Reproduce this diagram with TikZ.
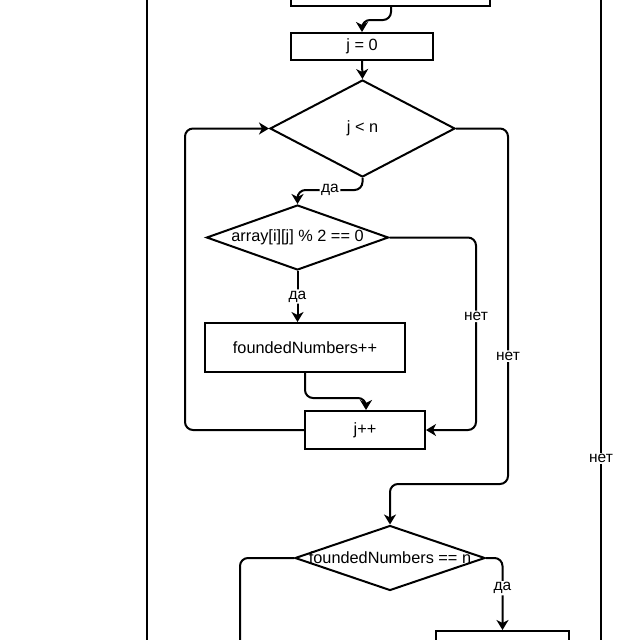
\documentclass[tikz,border=0pt]{standalone}
\usepackage{fontspec}
\setmainfont{Liberation Sans}
\usetikzlibrary{shapes.geometric,arrows.meta}
\begin{document}
\begin{tikzpicture}[x=1pt,y=1pt,line width=2pt,
  box/.style={draw, rectangle, inner sep=0pt, font=\fontsize{16.3}{19}\selectfont},
  dia/.style={draw, diamond, inner sep=0pt, aspect=1},
  dtext/.style={font=\fontsize{16.3}{19}\selectfont, inner sep=0pt},
  flow/.style={draw, -{Stealth[length=10pt,width=12pt,inset=3pt]}, rounded corners=8pt},
  plain/.style={draw, rounded corners=8pt},
  lab/.style={fill=white, inner sep=1.5pt, font=\fontsize{15.5}{18}\selectfont}]
\useasboundingbox (0,0) rectangle (640,-640);
\fill[white] (0,0) rectangle (640,-640);
\clip (0,0) rectangle (640,-640);

% outer loop lines
\coordinate (ltop) at (147,10);
\coordinate (lbot) at (147,-650);
\coordinate (rtop) at (601,10);
\coordinate (rbot) at (601,-650);
\draw (ltop) -- (lbot);
\draw (rtop) -- node[lab, pos=0.71]{нет} (rbot);

% nodes
\node[box, minimum width=199pt, minimum height=40pt] (tb) at (390.5,14) {};
\node[box, minimum width=142pt, minimum height=27pt] (j0) at (362,-46.5) {j = 0};
\node[dia, minimum width=185pt, minimum height=97pt] (d1) at (362.5,-128.5) {};
\node[dtext] at (d1.center) {j < n};
\node[dia, minimum width=182pt, minimum height=65pt] (d2) at (297.5,-237.5) {};
\node[dtext] at (d2.center) {array[i][j] \% 2 == 0};
\node[box, minimum width=200pt, minimum height=49pt] (fn) at (305,-347.5) {foundedNumbers++};
\node[box, minimum width=120pt, minimum height=38pt] (jpp) at (365,-430) {j++};
\node[dia, minimum width=190pt, minimum height=65pt] (d3) at (390,-558) {};
\node[dtext] at (d3.center) {foundedNumbers == n};
\node[box, minimum width=133pt, minimum height=40pt] (res) at (502.5,-651) {};

% connectors
\draw[flow] ([xshift=0.5pt]tb.south) -- ++(0,-13) -| (j0.north);
\draw[flow] (j0.south) -- (d1.north);
\draw[flow] (d1.south) -- (362.5,-190) -- node[lab]{да} (297.5,-190) -- (d2.north);
\draw[flow] (d2.south) -- node[lab, pos=0.5]{да} (d2.south |- fn.north);
\draw[flow] (fn.south) -- ++(0,-25) -| ([xshift=1pt]jpp.north);
\draw[flow] (d2.east) -- (476,-237.5) -- node[lab, pos=0.41]{нет} (476,-430) -- (jpp.east);
\draw[flow] (jpp.west) -- (185,-430) -- (185,-128.5) -- (d1.west);
\draw[flow] (d1.east) -- (508,-128.5) -- node[lab, pos=0.64]{нет} (508,-484) -- (390,-484) -- (d3.north);
\draw[flow] (d3.east) -- (502.5,-558) -- node[lab, pos=0.42]{да} (res.north);
\coordinate (dn) at (240,-660);
\draw[plain] (d3.west) -- (240,-558) -- (dn);
\end{tikzpicture}
\end{document}
